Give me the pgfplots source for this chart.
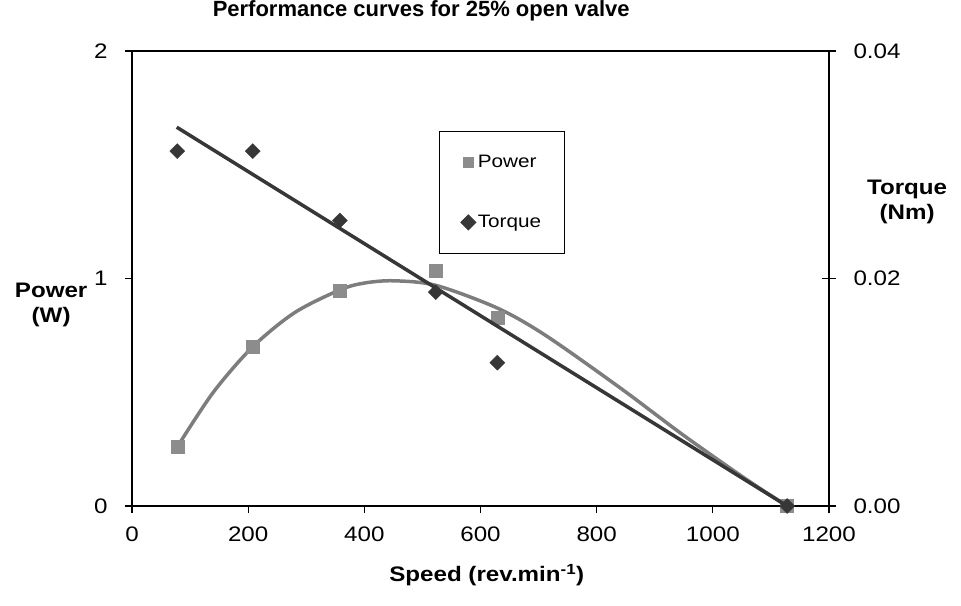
\documentclass[border=0pt]{standalone}
\usepackage{pgfplots}
\pgfplotsset{compat=1.18}
\usepackage{fontspec}
\setmainfont{Liberation Sans}[FakeStretch=1.15]
\newfontfamily\titlefont{Liberation Sans}
\definecolor{powergray}{RGB}{140,140,140}
\definecolor{curvegray}{RGB}{125,125,125}
\definecolor{torquedark}{RGB}{55,55,55}
\begin{document}
\begin{tikzpicture}[x=1pt,y=1pt]
\useasboundingbox (-132,-99) rectangle (829,506);
\begin{axis}[
  at={(0,0)}, anchor=south west, scale only axis,
  width=697pt, height=455pt,
  xmin=0, xmax=1200, ymin=0, ymax=2,
  xtick={0,200,400,600,800,1000,1200}, ytick={0,1,2},
  xtick pos=bottom, ytick pos=left, tick align=outside,
  major tick length=7pt,
  axis line style={black, line width=1.5pt},
  tick style={black, line width=1.2pt},
  /pgf/number format/assume math mode=true,
  /pgf/number format/1000 sep={},
  ticklabel style={font=\fontsize{21}{25}\selectfont},
  xticklabel style={yshift=-10pt},
  yticklabel style={xshift=-14pt},
  title={Performance curves for 25\% open valve},
  title style={at={(axis description cs:0.415,1)}, anchor=south, yshift=20pt,
    font=\titlefont\bfseries\fontsize{22}{26}\selectfont},
  xlabel={Speed (rev.min\textsuperscript{-1})},
  xlabel style={at={(axis description cs:0.509,0)}, anchor=center, yshift=-69pt,
    font=\bfseries\fontsize{21}{25}\selectfont},
  ylabel={Power\\(W)},
  ylabel style={at={(axis description cs:-0.116,0.442)}, rotate=-90, anchor=center,
    align=center, font=\bfseries\fontsize{21}{25}\selectfont},
  clip=false,
]
\addplot[curvegray, line width=3.5pt, smooth] coordinates {
 (78,0.26) (140,0.50) (208,0.70) (280,0.85) (358,0.95) (400,0.98) (450,0.99)
 (523,0.97) (629,0.87) (712,0.75) (840,0.52) (950,0.31) (1056,0.12) (1128,0)};
\addplot[only marks, mark=square*, mark size=6.5pt,
  mark options={fill=powergray, draw=powergray}] coordinates {
 (78,0.26) (208,0.70) (358,0.946) (523,1.034) (629,0.828) (1128,0)};
\end{axis}
\begin{axis}[
  at={(0,0)}, anchor=south west, scale only axis,
  width=697pt, height=455pt,
  xmin=0, xmax=1200, ymin=0, ymax=0.04,
  axis x line=none, axis y line*=right,
  ytick={0,0.02,0.04}, scaled y ticks=false,
  yticklabel style={/pgf/number format/.cd, fixed, fixed zerofill, precision=2},
  tick align=center, major tick length=14pt,
  axis line style={black, line width=1.5pt},
  tick style={black, line width=1.2pt},
  /pgf/number format/assume math mode=true,
  ticklabel style={font=\fontsize{21}{25}\selectfont, xshift=14pt},
  ylabel={Torque\\(Nm)},
  ylabel style={at={(axis description cs:1.112,0.668)}, rotate=-90, anchor=center,
    align=center, font=\bfseries\fontsize{21}{25}\selectfont},
  legend style={at={(axis description cs:0.441,0.824)}, anchor=north west,
    draw=black, line width=1pt, inner xsep=21pt, inner ysep=22pt, row sep=42pt,
    font=\fontsize{18}{22}\selectfont},
  legend cell align=left,
  clip=false,
]
\addlegendimage{only marks, mark=square*, mark size=5pt, mark options={fill=powergray, draw=powergray}}
\addlegendentry{Power}
\addplot[only marks, mark=square*, mark size=5.3pt,
  mark options={rotate=45, fill=torquedark, draw=torquedark}] coordinates {
 (78,0.0312) (208,0.0312) (358,0.0251) (523,0.0188) (629,0.0126) (1128,0)};
\addlegendentry{Torque}
\addplot[torquedark, line width=3.5pt, forget plot] coordinates {(77,0.0333) (1128,0)};
\end{axis}
\end{tikzpicture}
\end{document}
